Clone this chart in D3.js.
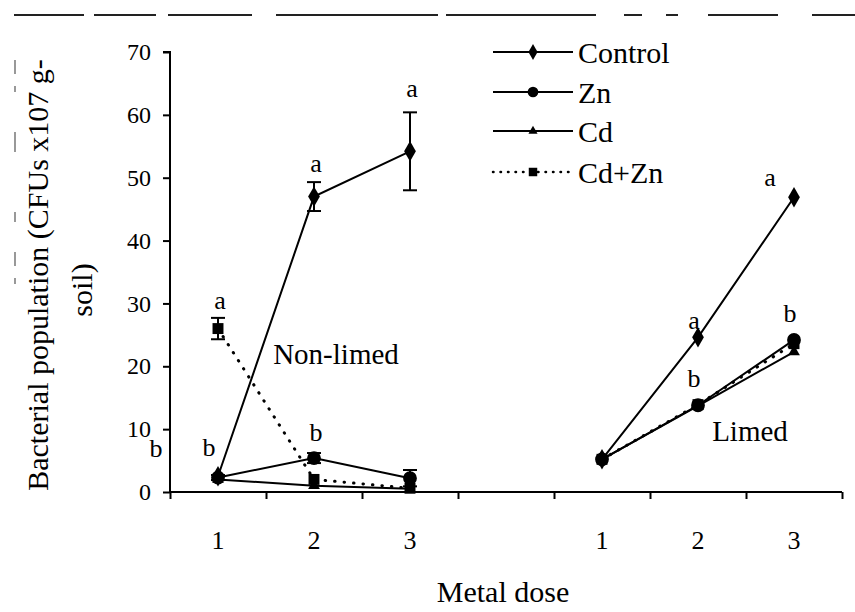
<!DOCTYPE html>
<html>
<head>
<meta charset="utf-8">
<script src="https://cdn.jsdelivr.net/npm/d3@7"></script>
<style>
  body { margin: 0; background: #fff; }
</style>
</head>
<body>
<svg id="chart" width="855" height="612"></svg>
<script>
// categories: non-limed doses 1-3, an empty gap slot, limed doses 1-3
const categories = ['1', '2', '3', '', '1', '2', '3'];
const control = [2.5, 47, 54.2, null, 5.2, 24.6, 46.9];
const zn      = [2.3, 5.4, 2.2, null, 5.2, 13.8, 24.2];
const cd      = [2.0, 1.0, 0.5, null, 5.2, 13.7, 22.3];
const cdzn    = [26.0, 2.0, 0.6, null, 5.2, 13.9, 23.6];
const controlErr = [0, 2.3, 6.2, null, 0, 0, 0];
const znErr      = [0.4, 0.8, 1.3, null, 0, 0, 0];
const cdznErr    = [1.7, 0, 0, null, 0, 0, 0];
const yTicks = [0, 10, 20, 30, 40, 50, 60, 70];
// significance letters: category index, value height, letter
const letters = [
    [0, 30.5, 'a'], [0, 7.2, 'b'], [1, 52.3, 'a'], [1, 9.5, 'b'], [2, 64.3, 'a'],
    [5, 27.4, 'a'], [5, 18.1, 'b'], [6, 50.1, 'a'], [6, 28.5, 'b']
];

// serif faces are not picked up by the renderer, so stay with one sans face throughout
const FONT = "'Liberation Serif', 'Liberation Sans', Arial, sans-serif";

const series = [
    { name: 'Control', values: control, err: controlErr, shape: d3.symbolDiamond,  size: 120, dash: null },
    { name: 'Zn',      values: zn,      err: znErr,      shape: d3.symbolCircle,   size: 150, dash: null },
    { name: 'Cd',      values: cd,      err: null,       shape: d3.symbolTriangle, size: 60,  dash: null },
    { name: 'Cd+Zn',   values: cdzn,    err: cdznErr,    shape: d3.symbolSquare,   size: 120, dash: '0.5,9' }
];

const svg = d3.select('#chart');
const x0 = 170, x1 = 842, yTop = 52, yBot = 492;

const x = d3.scaleBand().domain(d3.range(categories.length)).range([x0, x1]);
const xEdge = d3.scaleLinear().domain([0, categories.length]).range([x0, x1]);
const y = d3.scaleLinear().domain([0, 70]).range([yBot, yTop]);
const cx = i => x(i) + x.bandwidth() / 2;

function txt(sel, size) {
    return sel.attr('font-family', FONT).attr('font-size', size).attr('fill', '#000');
}

// scan artefacts: broken rule along the top and left edges
svg.append('line').attr('x1', 14).attr('x2', 855).attr('y1', 15).attr('y2', 15)
    .attr('stroke', '#222').attr('stroke-width', 2).attr('stroke-dasharray', '70,10,62,12,84,24,162,8,150,28,18,24,12,30,70,34,45');
svg.append('line').attr('x1', 15).attr('x2', 15).attr('y1', 60).attr('y2', 300)
    .attr('stroke', '#555').attr('stroke-width', 1.2).attr('stroke-dasharray', '14,12,6,40,20,60,10,30');

// y axis
const yAxis = svg.append('g').attr('transform', `translate(${x0},0)`)
    .call(d3.axisLeft(y).tickValues(yTicks).tickSize(7).tickPadding(12));
yAxis.select('.domain').attr('stroke-width', 2).attr('d', `M-7,${yTop}H0V${yBot}`);
yAxis.selectAll('.tick line').attr('stroke-width', 2);
txt(yAxis.selectAll('.tick text'), 24).attr('font-family', null);
yAxis.attr('font-family', FONT).attr('font-size', 24);

// x axis: ticks sit between categories
const xAxis = svg.append('g').attr('transform', `translate(0,${yBot})`)
    .call(d3.axisBottom(xEdge).tickValues(d3.range(categories.length + 1)).tickSize(7).tickFormat(''));
xAxis.select('.domain').attr('stroke-width', 2).attr('d', `M${x0},0H${x1}`);
xAxis.selectAll('.tick line').attr('stroke-width', 2);

txt(svg.append('g'), 26).selectAll('text').data(categories).join('text')
    .attr('x', (d, i) => cx(i)).attr('y', 549)
    .attr('text-anchor', 'middle')
    .text(d => d);

// axis titles
txt(svg.append('text'), 30).attr('x', 503).attr('y', 602).attr('text-anchor', 'middle')
    .text('Metal dose');
const yTitle = txt(svg.append('text'), 30).attr('transform', 'translate(48,275) rotate(-90)')
    .attr('text-anchor', 'middle');
yTitle.append('tspan').attr('x', 0).attr('dy', 0).text('Bacterial population (CFUs x107 g-');
yTitle.append('tspan').attr('x', -15).attr('dy', 44).text('soil)');

// lines, error bars, markers
const line = d3.line().defined(d => d.v != null).x(d => cx(d.i)).y(d => y(d.v));
const plot = svg.append('g');
series.forEach(s => {
    const pts = s.values.map((v, i) => ({ i, v, e: s.err ? s.err[i] : 0 }));
    plot.append('path').datum(pts).attr('d', line)
        .attr('fill', 'none').attr('stroke', '#000').attr('stroke-width', s.dash ? 3 : 2)
        .attr('stroke-linecap', s.dash ? 'round' : null)
        .attr('stroke-dasharray', s.dash);
    const eb = plot.append('g').selectAll('g').data(pts.filter(d => d.v != null && d.e > 0)).join('g')
        .attr('stroke', '#000').attr('stroke-width', 2);
    eb.append('line').attr('x1', d => cx(d.i)).attr('x2', d => cx(d.i))
        .attr('y1', d => y(d.v + d.e)).attr('y2', d => y(d.v - d.e));
    eb.append('line').attr('x1', d => cx(d.i) - 7).attr('x2', d => cx(d.i) + 7)
        .attr('y1', d => y(d.v + d.e)).attr('y2', d => y(d.v + d.e));
    eb.append('line').attr('x1', d => cx(d.i) - 7).attr('x2', d => cx(d.i) + 7)
        .attr('y1', d => y(d.v - d.e)).attr('y2', d => y(d.v - d.e));
    plot.append('g').selectAll('path').data(pts.filter(d => d.v != null)).join('path')
        .attr('transform', d => `translate(${cx(d.i)},${y(d.v)})`)
        .attr('d', d3.symbol().type(s.shape).size(s.size)).attr('fill', '#000');
});

// significance letters
txt(svg.append('g'), 26).selectAll('text').data(letters).join('text')
    .attr('x', d => cx(d[0]) + (d[0] === 6 && d[2] === 'a' ? -24 : d[0] === 0 && d[2] === 'b' ? -9 : d[0] >= 5 ? -4 : 2))
    .attr('y', d => y(d[1])).attr('dy', '0.35em')
    .attr('text-anchor', 'middle')
    .text(d => d[2]);
// stray "b" left of the axis beside the 10 tick
txt(svg.append('text'), 26).attr('x', cx(0) - 62).attr('y', y(7)).attr('dy', '0.35em')
    .attr('text-anchor', 'middle').text('b');

// group labels
txt(svg.append('text'), 29).attr('x', 336).attr('y', y(22)).attr('dy', '0.35em')
    .attr('text-anchor', 'middle').text('Non-limed');
txt(svg.append('text'), 29).attr('x', 750).attr('y', y(9.8)).attr('dy', '0.35em')
    .attr('text-anchor', 'middle').text('Limed');

// legend
const legend = svg.append('g');
series.forEach((s, k) => {
    const ly = [52, 92, 131, 172][k];
    legend.append('line').attr('x1', 493).attr('x2', 573).attr('y1', ly).attr('y2', ly)
        .attr('stroke', '#000').attr('stroke-width', s.dash ? 2.5 : 2)
        .attr('stroke-linecap', s.dash ? 'round' : null)
        .attr('stroke-dasharray', s.dash ? '0.5,7' : null);
    legend.append('path').attr('transform', `translate(533,${ly})`)
        .attr('d', d3.symbol().type(s.shape).size(s.size * 0.6)).attr('fill', '#000');
    txt(legend.append('text'), 30).attr('x', 578).attr('y', ly).attr('dy', '0.35em')
        .text(s.name);
});
</script>
</body>
</html>
